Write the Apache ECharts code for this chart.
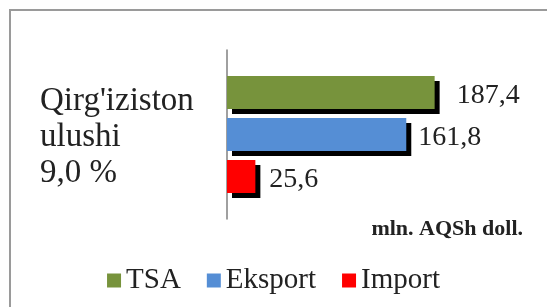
<!DOCTYPE html>
<html>
<head>
<meta charset="utf-8">
<script src="https://cdn.jsdelivr.net/npm/echarts@6/dist/echarts.min.js"></script>
<style>
  html, body { margin: 0; padding: 0; background: #fff; }
  #chart { width: 547px; height: 307px; }
</style>
</head>
<body>
<div id="chart"></div>
<script>
var categories = ["Qirg'iziston\nulushi\n9,0 %"];
var seriesNames = ['TSA', 'Eksport', 'Import'];
var tsaValues = [187.4];
var eksportValues = [161.8];
var importValues = [25.6];
var unitLabel = 'mln. AQSh doll.';

var serif = 'Liberation Serif';
var colors = ['#77933C', '#558ED5', '#FF0000'];

function makeSeries(name, data, color, dist) {
    return {
        name: name,
        type: 'bar',
        data: data,
        barWidth: 33,
        barGap: '27%',
        itemStyle: {
            color: color,
            shadowColor: '#000',
            shadowOffsetX: 5,
            shadowOffsetY: 5,
            shadowBlur: 0
        },
        label: {
            show: true,
            position: 'right',
            distance: dist,
            offset: [0, 3],
            fontFamily: serif,
            fontSize: 28,
            color: '#222',
            formatter: function (p) {
                return String(p.value).replace('.', ',');
            }
        }
    };
}

var myChart = echarts.init(document.getElementById('chart'));
var option = {
    animation: false,
    grid: { left: 227, right: 43, top: 50, bottom: 88 },
    legend: {
        data: seriesNames,
        top: 261,
        left: 'center',
        itemWidth: 14,
        itemHeight: 14,
        itemGap: 26,
        icon: 'rect',
        textStyle: { fontFamily: serif, fontSize: 29, color: '#222' }
    },
    xAxis: {
        type: 'value',
        min: 0,
        max: 250,
        show: false
    },
    yAxis: {
        type: 'category',
        data: categories,
        inverse: true,
        axisLine: { show: true, lineStyle: { color: '#808080', width: 1.5 } },
        axisTick: { show: false },
        axisLabel: { show: false }
    },
    graphic: [
        {
            type: 'rect',
            shape: { x: 10, y: 10, width: 560, height: 320 },
            style: { fill: 'none', stroke: '#9a9a9a', lineWidth: 2 },
            silent: true
        },
        {
            // category name, drawn on the left like the original
            type: 'text',
            left: 40,
            top: 83,
            style: {
                text: categories[0],
                fontFamily: serif,
                fontSize: 33,
                lineHeight: 36,
                fill: '#222'
            }
        },
        {
            type: 'text',
            right: 24,
            top: 218,
            style: {
                text: unitLabel,
                fontFamily: serif,
                fontSize: 22,
                fontWeight: 'bold',
                fill: '#222'
            }
        }
    ],
    series: [
        makeSeries(seriesNames[0], tsaValues, colors[0], 22),
        makeSeries(seriesNames[1], eksportValues, colors[1], 12),
        makeSeries(seriesNames[2], importValues, colors[2], 14)
    ]
};
myChart.setOption(option);
</script>
</body>
</html>
